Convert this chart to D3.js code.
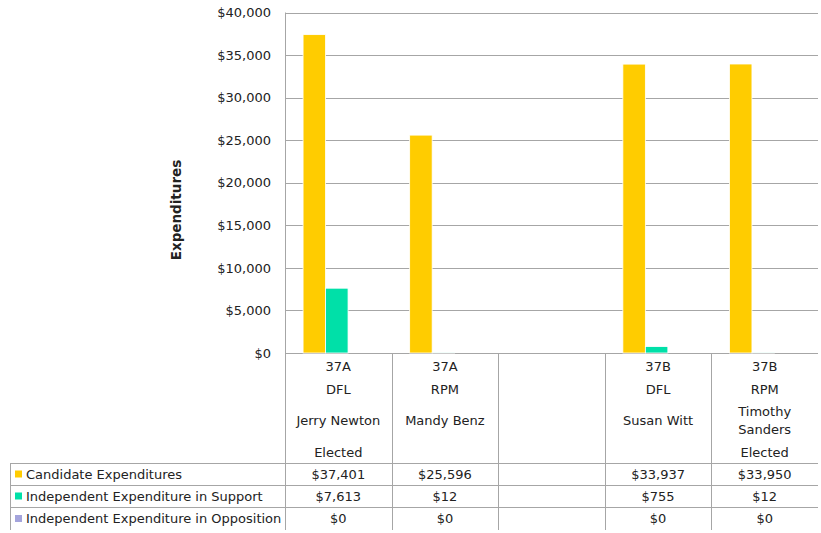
<!DOCTYPE html>
<html><head><meta charset="utf-8">
<script src="https://cdn.jsdelivr.net/npm/d3@7"></script>
<style>body{margin:0;background:#fff}svg{display:block}text{font-family:"DejaVu Sans",sans-serif;fill:#222}</style>
</head><body><svg id="c" width="821" height="533"></svg>
<script>
const categories = ["c1","c2","gap","c3","c4"];
const districts = ["37A","37A","","37B","37B"];
const parties = ["DFL","RPM","","DFL","RPM"];
const names = [["Jerry Newton"],["Mandy Benz"],[],["Susan Witt"],["Timothy","Sanders"]];
const status = ["Elected","","","","Elected"];
const seriesNames = ["Candidate Expenditures","Independent Expenditure in Support","Independent Expenditure in Opposition"];
const candidateExp = [37401, 25596, null, 33937, 33950];
const supportExp = [7613, 12, null, 755, 12];
const oppositionExp = [0, 0, null, 0, 0];
const tableText = [
  ["$37,401","$25,596","","$33,937","$33,950"],
  ["$7,613","$12","","$755","$12"],
  ["$0","$0","","$0","$0"]
];
const yTicks = [0,5000,10000,15000,20000,25000,30000,35000,40000];
const colors = ["#FFCC00","#00E0A8","#A4A4DC"];

const svg = d3.select("#c");
const L = 285, R = 818, T = 12.5, B = 353;
const x = d3.scaleBand().domain(categories).range([L,R]).paddingInner(0).paddingOuter(0);
const y = d3.scaleLinear().domain([0,40000]).range([B,T]);
const xs = d3.scaleBand().domain([0,1,2]).range([0, x.bandwidth()*0.633]);
const grey = "#a6a6a6";

// gridlines
svg.append("g").selectAll("line").data(yTicks).join("line")
  .attr("x1",L).attr("x2",R).attr("y1",d=>Math.round(y(d))+0.5).attr("y2",d=>Math.round(y(d))+0.5)
  .attr("stroke",grey).attr("stroke-width",1);
// y axis
const ya = svg.append("g").attr("transform",`translate(${L},0)`)
  .call(d3.axisLeft(y).tickValues(yTicks).tickFormat(d=>"$"+d3.format(",")(d)).tickSize(0).tickPadding(14));
ya.select(".domain").remove();
ya.selectAll("text").style("font-size","13px").attr("fill","#222").style("font-family","'DejaVu Sans',sans-serif");
svg.append("line").attr("x1",L+0.5).attr("x2",L+0.5).attr("y1",T).attr("y2",B).attr("stroke",grey);

// bars
const series = [candidateExp, supportExp, oppositionExp];
series.forEach((vals,si)=>{
  svg.append("g").selectAll("rect").data(vals.map((v,i)=>({v,c:categories[i]})).filter(d=>d.v!==null && d.v>0)).join("rect")
    .attr("x",d=>x(d.c)+(x.bandwidth()-xs.range()[1])/2 - 1.5 + xs(si))
    .attr("width",xs.bandwidth()).attr("y",d=>y(d.v)).attr("height",d=>B-y(d.v))
    .attr("fill",colors[si]).attr("stroke","#fff").attr("stroke-width",0.8);
});

// axis title
svg.append("text").attr("transform","translate(181,210) rotate(-90)").attr("text-anchor","middle")
  .style("font-size","13.5px").style("font-weight","bold").text("Expenditures");

// table
const rowsY = [463,485,507,530];
const colEdges = categories.map(c=>x(c));
const tg = svg.append("g").attr("stroke",grey).attr("stroke-width",1);
colEdges.forEach(e=>tg.append("line").attr("x1",Math.round(e)+0.5).attr("x2",Math.round(e)+0.5).attr("y1",B).attr("y2",rowsY[3]));
rowsY.slice(0,3).forEach(r=>tg.append("line").attr("x1",10).attr("x2",R).attr("y1",r+0.5).attr("y2",r+0.5));
tg.append("line").attr("x1",10.5).attr("x2",10.5).attr("y1",rowsY[0]).attr("y2",rowsY[3]);

// header labels
const hg = svg.append("g").style("font-size","13px").attr("text-anchor","middle");
categories.forEach((c,i)=>{
  const cx = x(c)+x.bandwidth()/2;
  hg.append("text").attr("x",cx).attr("y",371).text(districts[i]);
  hg.append("text").attr("x",cx).attr("y",394).text(parties[i]);
  const nm = names[i];
  if(nm.length===1) hg.append("text").attr("x",cx).attr("y",425).text(nm[0]);
  else nm.forEach((n,k)=>hg.append("text").attr("x",cx).attr("y",416+k*18).text(n));
  if(status[i]) hg.append("text").attr("x",cx).attr("y",457).text(status[i]);
});
// rows
seriesNames.forEach((s,si)=>{
  const cy = (rowsY[si]+rowsY[si+1])/2;
  svg.append("rect").attr("x",15).attr("y",cy-3.5).attr("width",7).attr("height",7).attr("fill",colors[si]);
  svg.append("text").attr("x",26).attr("y",cy+4.5).style("font-size","13px").text(s);
  categories.forEach((c,i)=>{
    svg.append("text").attr("x",x(c)+x.bandwidth()/2).attr("y",cy+4.5).attr("text-anchor","middle").style("font-size","13px").text(tableText[si][i]);
  });
});
</script></body></html>
